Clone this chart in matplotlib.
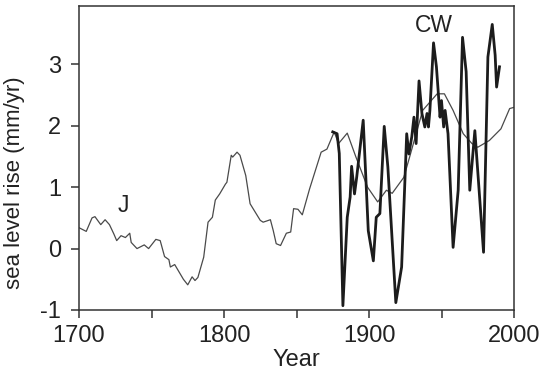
import matplotlib
matplotlib.use("Agg")
import matplotlib.pyplot as plt
from matplotlib.ticker import MultipleLocator

plt.rcParams["font.family"] = ["Liberation Sans", "DejaVu Sans"]
plt.rcParams["axes.unicode_minus"] = False

# Reconstructed long record (J)
j_years = [1700, 1705, 1709, 1711, 1715, 1718, 1721, 1724, 1726, 1729, 1732, 1735,
           1736, 1740, 1745, 1748, 1753, 1756, 1759, 1762, 1763, 1766, 1772, 1775,
           1778, 1780, 1782, 1786, 1789, 1792, 1794, 1797, 1801, 1802, 1805, 1806,
           1809, 1811, 1815, 1818, 1825, 1827, 1832, 1834, 1836, 1839, 1843, 1846,
           1848, 1851, 1854, 1859, 1867, 1871, 1876, 1879, 1885, 1891, 1899, 1906,
           1912, 1916, 1924, 1928, 1937, 1947, 1952, 1958, 1965, 1971, 1975, 1983,
           1991, 1997, 2000]
j_rate = [0.34, 0.28, 0.50, 0.52, 0.39, 0.47, 0.39, 0.24, 0.13, 0.21, 0.18, 0.25,
          0.10, 0.00, 0.06, 0.00, 0.15, 0.13, -0.13, -0.18, -0.30, -0.26, -0.50, -0.59,
          -0.46, -0.52, -0.47, -0.14, 0.43, 0.51, 0.79, 0.89, 1.05, 1.08, 1.52, 1.49,
          1.57, 1.52, 1.19, 0.73, 0.46, 0.43, 0.47, 0.29, 0.08, 0.05, 0.25, 0.27,
          0.65, 0.64, 0.55, 0.97, 1.57, 1.62, 1.90, 1.71, 1.88, 1.49, 1.00, 0.76,
          0.95, 0.90, 1.16, 1.49, 2.25, 2.52, 2.52, 2.25, 1.87, 1.71, 1.65, 1.76,
          1.95, 2.28, 2.30]

# Tide-gauge based record (CW)
cw_years = [1875, 1878, 1879.5, 1882, 1885, 1887, 1888, 1890, 1891.5, 1896, 1899.5,
            1903, 1905, 1907.5, 1910.5, 1913, 1918.5, 1922.5, 1926, 1927.5, 1929.5,
            1931, 1932.5, 1934.5, 1936.5, 1938.5, 1940, 1941, 1942, 1944.5, 1946.5,
            1949, 1950, 1951.5, 1952.5, 1954.5, 1958, 1961.5, 1964.5, 1967, 1969.5,
            1973, 1979, 1982, 1985, 1987, 1988, 1990]
cw_rate = [1.90, 1.87, 1.55, -0.93, 0.51, 0.84, 1.34, 0.89, 1.16, 2.09, 0.29,
           -0.20, 0.51, 0.57, 1.99, 1.33, -0.88, -0.30, 1.87, 1.54, 1.82,
           2.14, 1.71, 2.73, 2.20, 1.98, 2.20, 1.98, 2.25, 3.35, 2.96,
           2.14, 2.41, 1.98, 2.25, 1.87, 0.02, 0.95, 3.44, 2.88, 0.95,
           1.92, -0.06, 3.12, 3.65, 3.15, 2.63, 2.96]

x_ticks = [1700, 1800, 1900, 2000]
y_ticks = [-1, 0, 1, 2, 3]

fig = plt.figure(figsize=(5.54, 3.75), dpi=100)
ax = fig.add_axes([79 / 554, 1 - 310 / 375, (514 - 79) / 554, (310 - 6) / 375])

ax.plot(j_years, j_rate, color="#4a4a4a", lw=0.9, zorder=2)
ax.plot(cw_years, cw_rate, color="#1c1c1c", lw=2.0, zorder=3)

ax.text(1730.3, 0.70, "J", fontsize=16.5, ha="center", va="center", color="#222222")
ax.text(1944.8, 3.63, "CW", fontsize=16.5, ha="center", va="center", color="#222222")

ax.set_xlim(1700, 2000)
ax.set_ylim(-1, 3.95)
ax.set_xticks(x_ticks)
ax.xaxis.set_minor_locator(MultipleLocator(50))
ax.set_yticks(y_ticks)

for s in ax.spines.values():
    s.set_linewidth(1.1)
    s.set_color("#333333")

ax.tick_params(axis="both", which="both", direction="out", length=6, width=1.1,
               color="#333333", labelsize=17, labelcolor="#222222")
ax.tick_params(axis="x", which="major", pad=5)
ax.tick_params(axis="y", which="major", pad=7)

ax.set_xlabel("Year", fontsize=17, color="#222222")
ax.xaxis.set_label_coords(0.5, -0.128)
ax.set_ylabel("sea level rise (mm/yr)", fontsize=16, color="#222222")
ax.yaxis.set_label_coords(-0.125, 0.42)

fig.savefig("out.png", dpi=100, facecolor="white")
